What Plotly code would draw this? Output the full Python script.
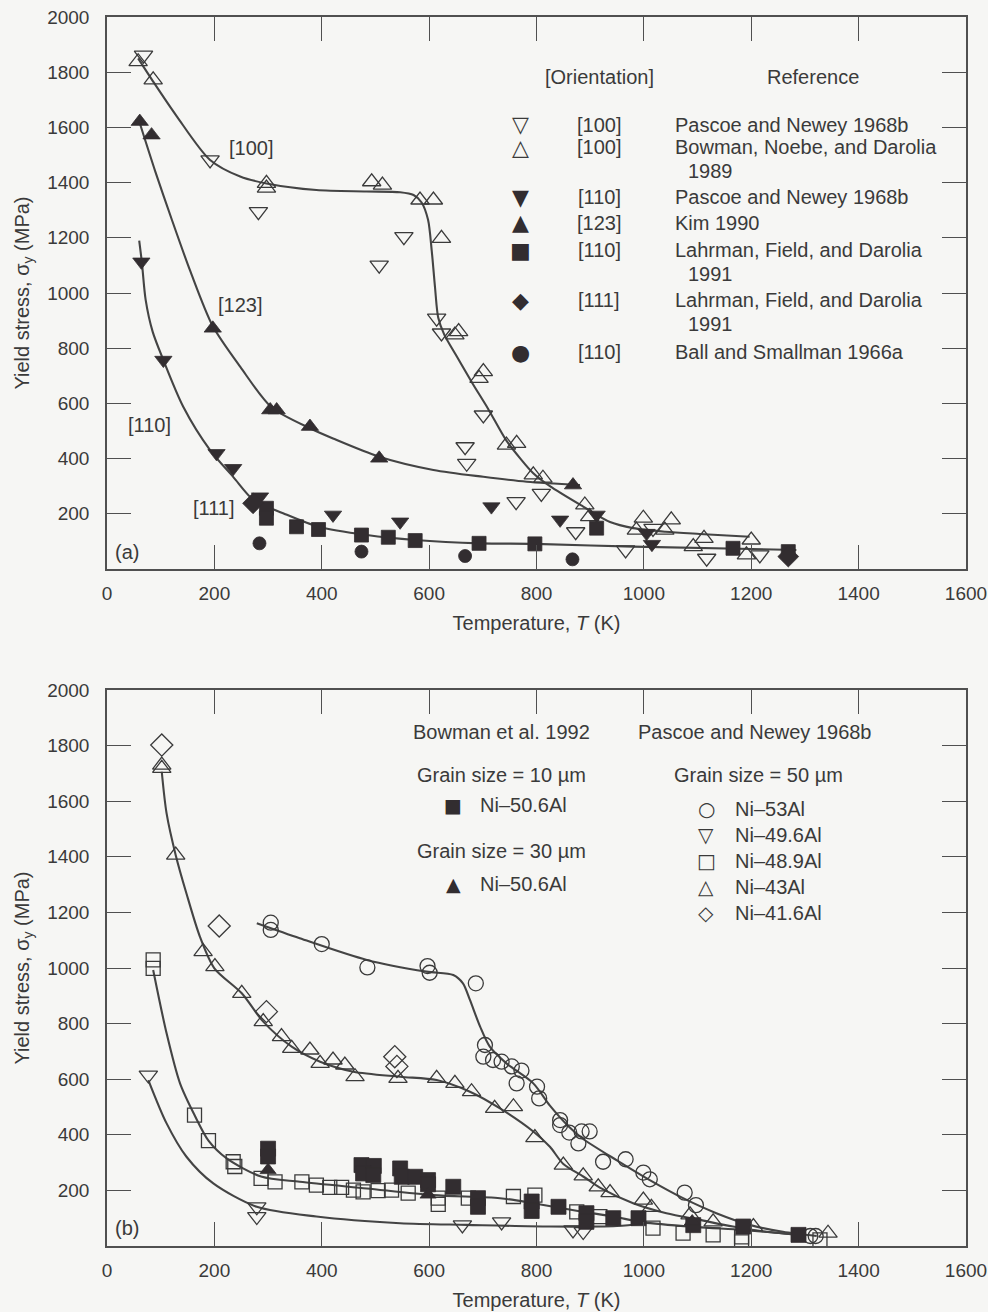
import plotly.graph_objects as go

# ---------------- Panel (a) data ----------------
a_100_pascoe_T = [68, 192, 282, 507, 553, 614, 623, 667, 670, 701, 762, 809, 873, 966, 1017, 1117, 1216]
a_100_pascoe_s = [1862, 1482, 1295, 1101, 1204, 909, 855, 443, 383, 558, 244, 274, 135, 69, 147, 39, 51]

a_100_bowman_T = [58, 86, 297, 297, 493, 513, 583, 608, 623, 648, 655, 693, 701, 744, 763, 794, 812,
                  890, 899, 986, 999, 1039, 1051, 1092, 1112, 1191, 1200]
a_100_bowman_s = [1838, 1772, 1397, 1380, 1403, 1391, 1337, 1337, 1198, 848, 860, 691, 715, 449, 455, 341, 329,
                  232, 190, 141, 184, 141, 178, 81, 111, 51, 105]

a_110_pascoe_T = [64, 105, 204, 235, 285, 421, 546, 716, 844, 912, 1005, 1015]
a_110_pascoe_s = [1113, 757, 419, 365, 262, 196, 171, 226, 178, 196, 130, 90]

a_123_kim_T = [61, 83, 197, 304, 316, 378, 507, 868]
a_123_kim_s = [1621, 1572, 872, 576, 576, 516, 401, 304]

a_110_lahrman_T = [297, 297, 353, 394, 474, 524, 574, 693, 797, 912, 1166, 1269]
a_110_lahrman_s = [220, 184, 153, 143, 123, 115, 103, 93, 91, 148, 75, 63]

a_111_lahrman_T = [272, 1269]
a_111_lahrman_s = [238, 45]

a_110_ball_T = [284, 474, 667, 867]
a_110_ball_s = [93, 63, 47, 35]

a_curve100_T = [58, 86, 130, 192, 248, 297, 390, 483, 546, 571, 586, 598, 605, 611, 617, 628, 650, 680,
                710, 744, 770, 794, 825, 887, 937, 980, 1040, 1104, 1197]
a_curve100_s = [1850, 1766, 1640, 1482, 1422, 1397, 1373, 1368, 1365, 1355, 1328, 1265, 1150, 1020, 910, 850,
                775, 675, 580, 465, 400, 347, 300, 226, 170, 148, 135, 127, 117]

a_curve123_T = [61, 90, 120, 155, 197, 248, 307, 378, 421, 507, 608, 701, 782, 881]
a_curve123_s = [1616, 1440, 1270, 1080, 880, 733, 585, 510, 473, 407, 359, 334, 316, 304]

a_curve110_T = [60, 65, 72, 85, 105, 142, 192, 235, 273, 328, 394, 484, 574, 695, 797, 980, 1284]
a_curve110_s = [1190, 1110, 975, 860, 757, 588, 431, 334, 250, 202, 153, 123, 105, 93, 91, 81, 69]

# ---------------- Panel (b) data ----------------
b_53_T = [305, 305, 400, 485, 597, 601, 687, 704, 701, 719, 735, 754, 772, 763, 801, 805, 844, 844, 861,
          884, 899, 878, 924, 966, 999, 1011, 1076, 1097, 1310, 1320]
b_53_s = [1163, 1137, 1086, 1002, 1007, 983, 945, 723, 681, 669, 663, 646, 631, 585, 573, 531, 453, 435, 408,
          412, 412, 369, 303, 312, 264, 240, 192, 147, 36, 36]

b_496_T = [77, 279, 279, 662, 735, 868, 887]
b_496_s = [615, 141, 106, 76, 87, 58, 52]

b_489_T = [86, 86, 163, 189, 235, 238, 287, 313, 363, 390, 415, 437, 459, 477, 505, 530, 561, 617, 617,
           673, 757, 797, 875, 918, 1017, 1073, 1129, 1182, 1182, 1328]
b_489_s = [1029, 999, 471, 379, 303, 286, 243, 231, 231, 219, 211, 211, 201, 195, 199, 201, 190, 172, 150,
           172, 178, 183, 123, 106, 64, 46, 40, 33, 15, 22]

b_43_T = [102, 102, 128, 179, 201, 251, 291, 325, 344, 378, 397, 421, 443, 462, 542, 614, 648, 679,
          722, 757, 797, 850, 887, 915, 937, 999, 1014, 1086, 1129, 1204, 1343]
b_43_s = [1730, 1718, 1406, 1059, 1005, 909, 807, 753, 711, 705, 657, 669, 651, 609, 603, 603, 585, 555,
          495, 501, 390, 291, 252, 213, 192, 165, 139, 112, 87, 70, 46]

b_416_T = [102, 209, 297, 536, 540]
b_416_s = [1802, 1151, 843, 681, 646]

b_506_10_T = [300, 300, 474, 497, 477, 496, 546, 549, 574, 598, 598, 645, 691, 691, 791, 791, 841, 893,
              893, 943, 990, 1092, 1185, 1288]
b_506_10_s = [350, 322, 291, 288, 261, 255, 279, 249, 249, 237, 222, 213, 172, 141, 160, 126, 141, 118,
              87, 100, 100, 75, 70, 40]

b_506_30_T = [300, 598, 1090]
b_506_30_s = [273, 185, 88]

b_curve53_T = [279, 359, 484, 595, 645, 663, 676, 695, 713, 744, 794, 825, 860, 887, 949, 1011, 1073,
               1135, 1197, 1259, 1322]
b_curve53_s = [1161, 1107, 1029, 987, 975, 945, 885, 789, 717, 657, 585, 505, 430, 385, 309, 237, 172,
               118, 76, 51, 36]

b_curve43_T = [102, 111, 128, 148, 173, 200, 251, 291, 344, 397, 459, 546, 614, 676, 732, 794, 825, 850,
               887, 918, 980, 1042, 1104, 1166, 1228, 1291]
b_curve43_s = [1706, 1556, 1406, 1268, 1113, 999, 909, 807, 717, 663, 627, 609, 597, 555, 495, 412, 357,
               295, 250, 210, 154, 118, 94, 70, 51, 40]

b_curve489_T = [86, 111, 136, 163, 189, 223, 287, 359, 484, 608, 732, 794, 880, 943, 999, 1100, 1185, 1291]
b_curve489_s = [993, 765, 585, 471, 379, 315, 250, 231, 207, 183, 172, 154, 125, 106, 85, 68, 58, 40]

b_curve496_T = [77, 111, 148, 198, 279, 390, 546, 670, 825, 950, 1000]
b_curve496_s = [597, 441, 321, 225, 141, 106, 82, 76, 70, 72, 80]

x_ticks = [0, 200, 400, 600, 800, 1000, 1200, 1400, 1600]
y_ticks = [200, 400, 600, 800, 1000, 1200, 1400, 1600, 1800, 2000]

# ---------------- Figure ----------------
W, H = 988, 1312
BG = "#f6f6f4"
INK = "#3a3a3a"
DARK = "#322d30"
LINE = "#444444"
FONT = "Liberation Sans, Arial, Helvetica, sans-serif"
SYMF = "DejaVu Sans"


def pxx(x):
    return x / W


def pxy(y):
    return 1 - y / H


fig = go.Figure()


def curve(T, s, ax):
    fig.add_trace(go.Scatter(x=T, y=s, mode="lines", xaxis=ax[0], yaxis=ax[1],
                             line=dict(color=LINE, width=2.1, shape="spline", smoothing=0.8),
                             hoverinfo="skip", showlegend=False))


def pts(T, s, ax, symbol, size, filled, name):
    if filled:
        mk = dict(symbol=symbol, size=size, color=DARK, line=dict(width=0.8, color=DARK))
    else:
        mk = dict(symbol=symbol, size=size, color=INK, line=dict(width=1.3, color=INK))
    fig.add_trace(go.Scatter(x=T, y=s, mode="markers", xaxis=ax[0], yaxis=ax[1],
                             marker=mk, name=name, showlegend=False))


A = ("x", "y")
B = ("x2", "y2")

curve(a_curve100_T, a_curve100_s, A)
curve(a_curve123_T, a_curve123_s, A)
curve(a_curve110_T, a_curve110_s, A)
pts(a_100_pascoe_T, a_100_pascoe_s, A, "triangle-down-open", 16, False, "[100] Pascoe and Newey 1968b")
pts(a_100_bowman_T, a_100_bowman_s, A, "triangle-up-open", 16, False, "[100] Bowman, Noebe, and Darolia 1989")
pts(a_110_pascoe_T, a_110_pascoe_s, A, "triangle-down", 15, True, "[110] Pascoe and Newey 1968b")
pts(a_123_kim_T, a_123_kim_s, A, "triangle-up", 15, True, "[123] Kim 1990")
pts(a_110_lahrman_T, a_110_lahrman_s, A, "square", 14, True, "[110] Lahrman, Field, and Darolia 1991")
pts(a_111_lahrman_T, a_111_lahrman_s, A, "diamond", 16, True, "[111] Lahrman, Field, and Darolia 1991")
pts(a_110_ball_T, a_110_ball_s, A, "circle", 13, True, "[110] Ball and Smallman 1966a")

curve(b_curve53_T, b_curve53_s, B)
curve(b_curve43_T, b_curve43_s, B)
curve(b_curve489_T, b_curve489_s, B)
curve(b_curve496_T, b_curve496_s, B)
pts(b_53_T, b_53_s, B, "circle-open", 15, False, "Ni-53Al")
pts(b_496_T, b_496_s, B, "triangle-down-open", 16, False, "Ni-49.6Al")
pts(b_489_T, b_489_s, B, "square-open", 14, False, "Ni-48.9Al")
pts(b_43_T, b_43_s, B, "triangle-up-open", 16, False, "Ni-43Al")
pts(b_416_T, b_416_s, B, "diamond-open", 17, False, "Ni-41.6Al")
pts(b_506_10_T, b_506_10_s, B, "square", 15, True, "Ni-50.6Al (10 µm)")
pts(b_506_30_T, b_506_30_s, B, "triangle-up", 14, True, "Ni-50.6Al (30 µm)")

xdom = [107 / W, 966 / W]
axis_common = dict(showline=True, linecolor="#505050", linewidth=1.5, mirror="ticks",
                   ticks="inside", ticklen=24, tickwidth=1.3, tickcolor="#505050",
                   showgrid=False, zeroline=False, automargin=False,
                   tickfont=dict(family=FONT, size=19, color=INK))

xa = dict(axis_common, range=[0, 1600], tickvals=x_ticks, domain=xdom, ticklabelstandoff=6,
          title=dict(text="Temperature, <i>T</i> (K)", font=dict(family=FONT, size=20, color=INK), standoff=13))
ya = dict(axis_common, range=[0, 2000], tickvals=y_ticks, ticklabelstandoff=12,
          title=dict(text="Yield stress, σ<sub>y</sub> (MPa)", font=dict(family=FONT, size=20, color=INK),
                     standoff=12))

fig.update_layout(
    width=W, height=H,
    paper_bgcolor=BG, plot_bgcolor=BG,
    margin=dict(l=0, r=0, t=0, b=0, autoexpand=False),
    showlegend=False,
    xaxis=dict(xa, anchor="y"),
    yaxis=dict(ya, anchor="x", domain=[pxy(569), pxy(17)]),
    xaxis2=dict(xa, anchor="y2"),
    yaxis2=dict(ya, anchor="x2", domain=[pxy(1246), pxy(690)]),
)

ann = []


def text(x, y, s, size=20, anchor="center", family=FONT, color=INK):
    ann.append(dict(x=pxx(x), y=pxy(y), xref="paper", yref="paper", text=s, showarrow=False,
                    xanchor=anchor, yanchor="middle", font=dict(family=family, size=size, color=color)))


# panel labels
text(251, 148, "[100]")
text(240, 305, "[123]")
text(149, 425, "[110]")
text(214, 508, "[111]")
text(127, 552, "(a)")
text(127, 1228, "(b)")

# panel (a) key
text(599, 77, "[Orientation]")
text(813, 77, "Reference")
key_a = [
    (125, "▽", INK, "[100]", ["Pascoe and Newey 1968b"]),
    (147, "△", INK, "[100]", ["Bowman, Noebe, and Darolia", "1989"]),
    (197, "▼", DARK, "[110]", ["Pascoe and Newey 1968b"]),
    (223, "▲", DARK, "[123]", ["Kim 1990"]),
    (250, "■", DARK, "[110]", ["Lahrman, Field, and Darolia", "1991"]),
    (300, "◆", DARK, "[111]", ["Lahrman, Field, and Darolia", "1991"]),
    (352, "●", DARK, "[110]", ["Ball and Smallman 1966a"]),
]
for y, sym, col, ori, refs in key_a:
    text(520, y, sym, size=22, family=SYMF, color=col)
    text(599, y, ori)
    text(673, y, refs[0], anchor="left")
    if len(refs) > 1:
        text(686, y + 24, refs[1], anchor="left")

# panel (b) key
text(502, 732, "Bowman et al. 1992")
text(755, 732, "Pascoe and Newey 1968b")
text(502, 775, "Grain size = 10 µm")
text(453, 805, "■", size=19, family=SYMF, color=DARK)
text(478, 805, "Ni–50.6Al", anchor="left")
text(502, 851, "Grain size = 30 µm")
text(453, 884, "▲", size=19, family=SYMF, color=DARK)
text(478, 884, "Ni–50.6Al", anchor="left")
text(758, 775, "Grain size = 50 µm")
key_b = [(809, "○", "Ni–53Al"), (835, "▽", "Ni–49.6Al"), (861, "□", "Ni–48.9Al"),
         (887, "△", "Ni–43Al"), (913, "◇", "Ni–41.6Al")]
for y, sym, lab in key_b:
    text(706, y, sym, size=20, family=SYMF)
    text(733, y, lab, anchor="left")

fig.update_layout(annotations=ann)
fig.write_html("out.html", config={"displayModeBar": False},
               post_script="document.body.style.margin='0px';")
